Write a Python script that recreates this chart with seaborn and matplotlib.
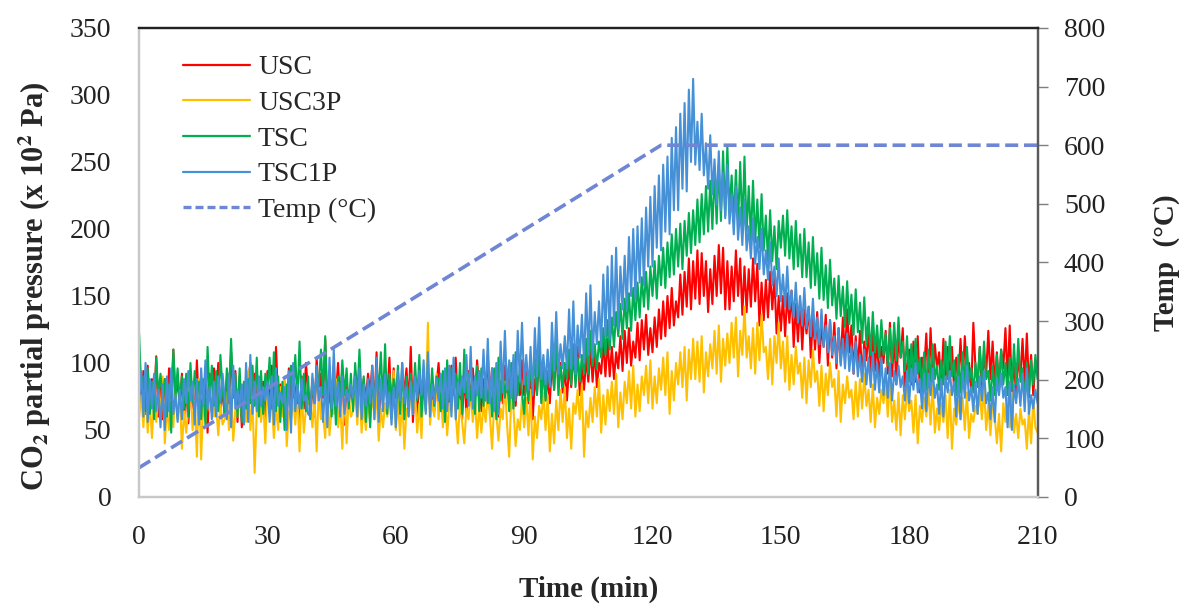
import numpy as np
import pandas as pd
import matplotlib
matplotlib.use("Agg")
import matplotlib.pyplot as plt
import seaborn as sns

# time axis (min), one reading every half minute
time_min = [i / 2 for i in range(421)]

# CO2 partial pressure (x 10^2 Pa)
usc = [85, 70, 94, 62, 98, 66, 88, 70, 105, 60, 82, 58, 88, 64, 96, 74, 110, 72, 90, 66,
       92, 58, 84, 55, 80, 70, 62, 102, 64, 86, 74, 90, 48, 92, 68, 96, 72, 100, 60, 84,
       60, 88, 70, 108, 76, 94, 56, 90, 52, 82, 66, 86, 100, 78, 92, 68, 82, 62, 86, 58,
       94, 64, 98, 74, 112, 70, 84, 62, 86, 58, 96, 70, 98, 72, 88, 56, 90, 66, 100, 78,
       66, 86, 60, 104, 72, 92, 74, 118, 60, 80, 64, 88, 76, 100, 68, 96, 54, 84, 70, 84,
       70, 94, 64, 100, 62, 88, 72, 92, 78, 98, 66, 108, 58, 82, 74, 86, 74, 104, 62, 96,
       64, 88, 70, 90, 80, 96, 68, 112, 56, 86, 60, 88, 72, 94, 74, 98, 66, 82, 64, 84,
       100, 72, 86, 62, 86, 66, 98, 76, 104, 70, 84, 58, 92, 62, 94, 70, 96, 74, 102, 80,
       64, 88, 72, 106, 74, 96, 64, 88, 60, 86, 70, 98, 78, 100, 66, 92, 68, 90, 76, 102,
       76, 100, 70, 94, 58, 88, 78, 104, 82, 96, 72, 90, 70, 102, 80, 110, 84, 100, 78, 96,
       72, 98, 82, 106, 88, 112, 76, 98, 80, 104, 86, 112, 86, 110, 82, 100, 92, 116, 90, 118,
       90, 112, 88, 108, 96, 120, 94, 124, 100, 126, 98, 116, 104, 130, 102, 132, 110, 136, 106, 126,
       108, 134, 112, 140, 118, 146, 120, 150, 126, 156, 128, 146, 134, 166, 136, 168, 142, 178, 140, 176,
       148, 184, 144, 182, 150, 176, 138, 170, 144, 180, 150, 188, 152, 186, 140, 176, 140, 172, 146, 184,
       150, 178, 136, 172, 138, 170, 142, 178, 146, 174, 128, 160, 132, 162, 134, 168, 140, 164, 122, 150,
       124, 150, 120, 152, 130, 154, 112, 144, 116, 146, 110, 140, 122, 142, 104, 134, 110, 138, 100, 128,
       112, 136, 98, 132, 104, 130, 96, 126, 100, 134, 104, 140, 108, 128, 92, 120, 96, 124, 88, 116,
       102, 126, 90, 124, 94, 118, 86, 112, 100, 124, 92, 130, 90, 120, 84, 118, 104, 126, 82, 98,
       110, 84, 116, 86, 120, 78, 104, 94, 122, 82, 126, 88, 114, 96, 108, 80, 118, 88, 112, 90,
       112, 80, 104, 86, 118, 84, 120, 94, 100, 78, 130, 96, 86, 112, 80, 106, 92, 124, 88, 116,
       84, 108, 80, 110, 96, 126, 86, 128, 78, 102, 74, 104, 90, 118, 84, 122, 82, 106, 76, 100,
       92]

usc3p = [60, 76, 52, 82, 48, 70, 44, 74, 56, 80, 62, 90, 40, 66, 50, 70, 52, 84, 58, 78,
         36, 64, 48, 66, 84, 50, 72, 30, 88, 28, 72, 56, 80, 64, 88, 60, 68, 46, 70, 54,
         58, 78, 50, 80, 42, 66, 60, 76, 62, 86, 56, 94, 50, 72, 18, 64, 84, 56, 72, 40,
         84, 62, 70, 44, 68, 50, 82, 60, 90, 38, 64, 58, 74, 54, 80, 34, 80, 48, 66, 72,
         70, 52, 76, 34, 82, 58, 60, 44, 86, 46, 66, 62, 88, 52, 70, 36, 84, 40, 76, 60,
         64, 80, 54, 86, 48, 70, 50, 72, 56, 78, 58, 80, 42, 66, 52, 70, 60, 88, 62, 94,
         50, 72, 46, 74, 36, 66, 60, 82, 62, 78, 48, 70, 44, 88, 68, 130, 54, 72, 60, 92,
         58, 80, 52, 76, 46, 70, 64, 84, 62, 40, 72, 56, 40, 66, 58, 80, 56, 74, 44, 68,
         48, 70, 56, 78, 60, 36, 70, 62, 42, 66, 58, 86, 54, 30, 76, 66, 38, 58, 50, 74,
         52, 74, 46, 80, 28, 60, 44, 68, 58, 78, 50, 76, 34, 62, 40, 72, 50, 80, 56, 82,
         44, 66, 36, 70, 62, 80, 58, 84, 30, 64, 52, 74, 56, 82, 60, 88, 48, 76, 54, 80,
         64, 86, 62, 92, 52, 78, 58, 86, 70, 94, 66, 98, 60, 84, 64, 90, 76, 98, 70, 102,
         66, 90, 70, 96, 80, 104, 76, 108, 62, 94, 72, 100, 84, 108, 82, 112, 72, 110, 88, 118,
         88, 116, 86, 120, 78, 108, 90, 114, 96, 124, 92, 128, 86, 118, 98, 122, 100, 130, 104, 134,
         90, 124, 106, 142, 104, 120, 96, 126, 92, 130, 102, 136, 108, 112, 88, 118, 84, 120, 100, 130,
         96, 116, 86, 120, 80, 106, 84, 112, 92, 100, 74, 104, 70, 102, 82, 110, 86, 94, 68, 98,
         64, 92, 76, 100, 82, 88, 60, 94, 56, 84, 70, 90, 74, 80, 58, 86, 60, 88, 66, 92,
         68, 80, 56, 84, 52, 74, 62, 80, 70, 86, 60, 90, 56, 72, 50, 78, 46, 76, 58, 82,
         64, 72, 48, 76, 40, 68, 56, 74, 60, 80, 54, 84, 48, 66, 50, 70, 56, 76, 44, 80,
         36, 66, 54, 72, 58, 74, 50, 78, 44, 62, 56, 68, 62, 78, 58, 82, 50, 70, 46, 74,
         60, 40, 62, 34, 70, 56, 74, 52, 78, 48, 62, 44, 66, 54, 58, 36, 66, 40, 72, 52,
         48]

tsc = [122, 80, 90, 64, 96, 62, 86, 58, 104, 76, 92, 72, 88, 60, 84, 48, 110, 74, 96, 70,
       90, 66, 92, 60, 100, 70, 94, 76, 86, 58, 88, 54, 112, 72, 98, 68, 94, 64, 106, 80,
       62, 96, 76, 118, 74, 92, 60, 96, 56, 86, 66, 88, 70, 98, 68, 104, 60, 94, 62, 92,
       78, 104, 66, 108, 64, 90, 56, 86, 50, 84, 72, 98, 74, 106, 70, 116, 66, 92, 64, 90,
       58, 88, 70, 94, 82, 110, 76, 120, 68, 94, 60, 88, 54, 90, 72, 102, 76, 96, 66, 92,
       64, 100, 74, 110, 72, 90, 56, 86, 52, 88, 70, 96, 80, 108, 70, 114, 62, 92, 68, 88,
       74, 98, 62, 100, 58, 90, 68, 92, 70, 100, 72, 106, 60, 86, 64, 100, 70, 96, 68, 90,
       88, 64, 94, 56, 102, 72, 96, 76, 92, 66, 100, 62, 110, 74, 92, 72, 86, 62, 98, 64,
       96, 68, 92, 70, 84, 60, 96, 58, 104, 72, 94, 74, 90, 64, 100, 66, 108, 76, 96, 78,
       62, 90, 72, 98, 80, 104, 76, 112, 70, 96, 72, 94, 84, 110, 80, 118, 76, 98, 82, 100,
       88, 110, 84, 114, 82, 104, 86, 106, 92, 118, 92, 124, 98, 114, 96, 116, 104, 126, 106, 132,
       110, 134, 112, 138, 120, 144, 118, 148, 126, 152, 124, 156, 132, 160, 134, 164, 142, 168, 140, 172,
       150, 176, 148, 180, 158, 186, 156, 190, 164, 196, 166, 200, 172, 204, 170, 206, 180, 212, 182, 214,
       188, 222, 190, 226, 196, 232, 198, 236, 200, 244, 204, 248, 206, 258, 210, 262, 212, 240, 206, 244,
       204, 250, 200, 254, 198, 232, 192, 236, 190, 222, 186, 226, 184, 210, 176, 214, 176, 202, 170, 206,
       186, 210, 180, 214, 178, 202, 170, 206, 172, 196, 164, 200, 164, 190, 156, 194, 158, 182, 148, 186,
       147, 173, 141, 177, 143, 163, 133, 165, 135, 157, 127, 161, 129, 151, 121, 155, 123, 145, 115, 149,
       114, 134, 106, 138, 108, 128, 104, 132, 106, 122, 98, 126, 100, 130, 102, 134, 104, 116, 94, 120,
       86, 114, 90, 118, 92, 104, 78, 108, 80, 110, 86, 114, 88, 98, 80, 102, 84, 116, 88, 120,
       90, 102, 76, 106, 78, 108, 84, 112, 86, 96, 78, 100, 82, 112, 86, 116, 88, 94, 72, 98,
       76, 106, 82, 110, 84, 100, 76, 104, 80, 114, 84, 118, 86, 96, 72, 100, 74, 102, 84, 106,
       88]

tsc1p = [70, 94, 60, 100, 56, 88, 66, 92, 64, 80, 52, 84, 50, 90, 64, 96, 62, 76, 56, 80,
         58, 88, 70, 94, 72, 86, 54, 88, 54, 96, 68, 102, 66, 82, 58, 86, 60, 90, 70, 92,
         74, 58, 92, 52, 98, 66, 80, 68, 84, 54, 100, 56, 106, 62, 86, 64, 90, 68, 82, 72,
         86, 56, 90, 54, 96, 68, 78, 70, 82, 50, 94, 48, 100, 64, 84, 66, 88, 72, 76, 62,
         60, 92, 70, 98, 72, 82, 56, 86, 52, 104, 66, 110, 68, 86, 60, 90, 62, 80, 72, 84,
         74, 90, 60, 96, 58, 84, 68, 88, 70, 98, 58, 104, 56, 88, 64, 92, 66, 78, 54, 82,
         52, 94, 72, 100, 70, 82, 60, 86, 62, 90, 74, 94, 76, 102, 62, 108, 60, 84, 70, 88,
         72, 92, 66, 96, 64, 98, 60, 104, 58, 86, 76, 90, 78, 106, 68, 112, 66, 90, 76, 94,
         74, 110, 72, 118, 70, 96, 64, 100, 62, 116, 78, 124, 80, 102, 74, 106, 72, 124, 86, 130,
         84, 106, 80, 112, 76, 126, 90, 134, 88, 106, 84, 110, 82, 130, 94, 138, 92, 114, 96, 120,
         96, 140, 96, 146, 92, 128, 104, 136, 100, 152, 106, 158, 104, 138, 114, 146, 112, 166, 120, 172,
         118, 180, 128, 186, 126, 172, 140, 180, 140, 194, 150, 200, 148, 202, 160, 208, 158, 216, 172, 224,
         172, 232, 186, 240, 184, 248, 198, 254, 196, 268, 214, 276, 214, 286, 230, 294, 228, 304, 250, 312,
         248, 280, 244, 286, 240, 264, 230, 270, 226, 252, 218, 258, 214, 242, 208, 248, 204, 226, 196, 232,
         192, 216, 188, 222, 184, 202, 178, 208, 174, 194, 170, 200, 166, 184, 162, 190, 158, 172, 150, 178,
         146, 166, 142, 172, 140, 154, 134, 160, 130, 150, 128, 156, 126, 142, 120, 148, 118, 134, 114, 140,
         112, 128, 108, 132, 106, 120, 100, 126, 98, 118, 96, 122, 94, 112, 92, 116, 90, 106, 86, 110,
         84, 104, 82, 108, 80, 100, 78, 104, 76, 96, 74, 100, 72, 94, 84, 98, 82, 90, 72, 94,
         70, 96, 80, 100, 78, 88, 66, 92, 64, 92, 76, 96, 74, 84, 62, 88, 60, 90, 78, 94,
         76, 86, 60, 90, 58, 94, 74, 98, 72, 82, 64, 86, 62, 90, 72, 94, 70, 78, 58, 82,
         56, 88, 76, 92, 74, 82, 52, 86, 50, 84, 70, 88, 68, 92, 64, 96, 62, 76, 66, 80,
         70]

# furnace temperature programme (°C)
temp_time = [0, 122, 210]
temp_c = [50, 600, 600]

series_names = ["USC", "USC3P", "TSC", "TSC1P"]
series_colors = ["#FF0000", "#FFC000", "#00B050", "#4590D6"]
temp_color = "#6F86D4"

for s in (usc, usc3p, tsc, tsc1p):
    assert len(s) == len(time_min), len(s)

df = pd.DataFrame({"time": time_min * 4,
                   "pressure": usc + usc3p + tsc + tsc1p,
                   "sample": np.repeat(series_names, len(time_min))})
df_temp = pd.DataFrame({"time": temp_time, "temp": temp_c})

sns.set_style("white")
plt.rcParams["font.family"] = ["Liberation Serif", "DejaVu Serif"]
plt.rcParams["mathtext.fontset"] = "stix"

fig = plt.figure(figsize=(11.79, 6.08), dpi=100)
ax = fig.add_axes([0.118, 0.1826, 0.762, 0.7714])

sns.lineplot(data=df, x="time", y="pressure", hue="sample",
             hue_order=series_names, palette=series_colors,
             linewidth=1.5, ax=ax, legend=False)

ax2 = ax.twinx()
sns.lineplot(data=df_temp, x="time", y="temp", color=temp_color,
             linewidth=2.6, ax=ax2, legend=False)
ax2.lines[0].set_linestyle((0, (3.6, 1.6)))

ax.set_xlim(0, 210)
ax.set_ylim(0, 350)
ax2.set_ylim(0, 800)
ax.set_xticks(range(0, 211, 30))
ax.set_yticks(range(0, 351, 50))
ax2.set_yticks(range(0, 801, 100))

ax.tick_params(axis="both", length=0, labelsize=20, labelcolor="#222222")
ax.tick_params(axis="x", pad=20)
ax.tick_params(axis="y", pad=20)
ax2.tick_params(axis="y", length=7, width=1, colors="#7f7f7f",
                labelcolor="#222222", labelsize=20, pad=12)

for a in (ax, ax2):
    a.spines["left"].set_color("#c8c8c8")
    a.spines["bottom"].set_color("#c8c8c8")
    a.spines["top"].set_color("#222222")
    a.spines["right"].set_color("#5a5a5a")
    for s in a.spines.values():
        s.set_linewidth(1.6)

ax.set_xlabel("Time (min)", fontsize=21, fontweight="bold", labelpad=19)
ax.set_ylabel(r"CO$_\mathbf{2}$ partial pressure (x 10$^\mathbf{2}$ Pa)",
              fontsize=22, fontweight="bold", labelpad=12)
ax.yaxis.label.set_y(0.45)
ax2.set_ylabel("Temp  (°C)", fontsize=21, fontweight="bold", labelpad=34)
ax2.set_xlabel("")

handles = [plt.Line2D([], [], color=c, lw=1.6) for c in series_colors]
handles.append(plt.Line2D([], [], color=temp_color, lw=2.4,
                          linestyle=(0, (2.4, 1.2))))
ax2.legend(handles, series_names + ["Temp (°C)"], loc="upper left",
           bbox_to_anchor=(0.021, 0.996), frameon=False, fontsize=20,
           handlelength=2.4, handletextpad=0.3, labelspacing=0.37)

fig.savefig("out.png", dpi=100)
